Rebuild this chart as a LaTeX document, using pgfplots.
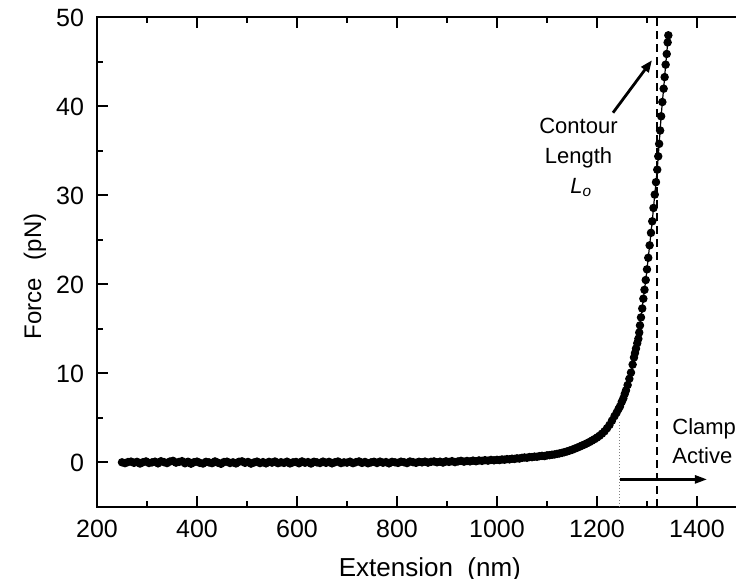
\documentclass[border=0pt]{standalone}
\usepackage{fontspec}
\setmainfont{Liberation Sans}
\usepackage{pgfplots}
\pgfplotsset{compat=1.18}
\usetikzlibrary{calc,arrows.meta}
\begin{document}
\begin{tikzpicture}
\begin{axis}[
  name=ax,
  scale only axis,
  width=320.1pt, height=244.75pt,
  xmin=200, xmax=1480.4, ymin=-5, ymax=50,
  axis lines=box,
  axis line style={-, line width=1pt},
  xtick={200,400,...,1400}, minor x tick num=1,
  ytick={0,10,...,50}, minor y tick num=1,
  xtick pos=both, ytick pos=left,
  tick align=inside,
  major tick length=5.5pt, minor tick length=3pt,
  every tick/.style={black, line width=1pt},
  /pgf/number format/assume math mode=true,
  /pgf/number format/1000 sep={},
  tick label style={font=\fontsize{12.5}{15}\selectfont},
  xticklabel style={yshift=-3pt},
  yticklabel style={xshift=-3pt},
  xlabel={Extension~~(nm)}, ylabel={Force\hspace{9pt}(pN)},
  xlabel style={font=\fontsize{13}{15}\selectfont, at={(axis description cs:0.52,-0.142)}, anchor=base},
  ylabel style={font=\fontsize{12}{14}\selectfont, at={(axis description cs:-0.097,0.471)}, anchor=center},
  clip=false,
]
\addplot[black, line width=0.6pt, mark=*, mark size=1.8pt, mark options={solid, fill=black}] table {
x y
250 0.02
256 -0.08
262 0.05
268 0.10
274 -0.04
280 0.07
286 -0.12
292 0.03
298 0.12
304 -0.06
310 0.01
316 0.09
322 -0.10
328 0.14
334 0.04
340 -0.07
346 0.11
352 0.18
358 -0.02
364 0.06
370 0.15
376 -0.09
382 0.08
388 -0.14
394 0.03
400 0.10
406 -0.05
412 -0.12
418 0.07
424 0.01
430 -0.08
436 0.12
442 -0.03
448 -0.15
454 0.05
460 0.09
466 -0.06
472 0.02
478 -0.11
484 0.08
490 0.13
496 -0.04
502 0.06
508 -0.13
514 0.00
520 0.10
526 -0.07
532 0.04
538 -0.10
544 0.07
550 -0.02
556 0.11
562 -0.08
568 0.03
574 -0.05
580 0.09
586 -0.11
592 0.02
598 0.06
604 -0.09
610 0.12
616 -0.03
622 0.05
628 -0.12
634 0.08
640 0.01
646 -0.06
652 0.10
658 -0.04
664 0.07
670 -0.10
676 0.03
682 0.11
688 -0.07
694 0.02
700 -0.02
706 0.09
712 -0.08
718 0.04
724 0.12
730 -0.05
736 0.06
742 -0.09
748 0.01
754 0.08
760 -0.06
766 0.10
772 -0.03
778 0.05
784 -0.10
790 0.07
796 0.02
802 -0.05
808 0.09
814 0.03
820 -0.07
826 0.11
832 0.04
838 -0.04
844 0.08
850 0.01
856 0.10
862 -0.02
868 0.07
874 0.12
880 0.02
886 0.09
892 -0.01
898 0.13
904 0.06
910 0.15
916 0.04
922 0.12
928 0.18
934 0.09
940 0.17
946 0.12
952 0.21
958 0.14
964 0.23
970 0.18
976 0.26
982 0.20
988 0.29
994 0.24
1000 0.30
1005 0.27
1010 0.34
1015 0.31
1020 0.38
1025 0.35
1030 0.42
1035 0.40
1040 0.47
1045 0.44
1050 0.52
1055 0.56
1060 0.53
1065 0.61
1070 0.60
1075 0.66
1080 0.64
1085 0.71
1090 0.74
1095 0.72
1100 0.80
1105 0.82
1110 0.87
1115 0.90
1120 0.96
1125 1.02
1130 1.08
1135 1.16
1140 1.24
1145 1.33
1150 1.42
1155 1.54
1160 1.65
1165 1.77
1170 1.90
1175 2.02
1180 2.16
1185 2.30
1190 2.46
1195 2.62
1200 2.80
1205 3.00
1210 3.24
1215 3.50
1220 3.84
1225 4.22
1230 4.70
1235 5.2
1239.3 5.6
1243 6.0
1246 6.3
1249.5 6.8
1252.7 7.2
1255.5 7.7
1258 8.1
1261.3 8.7
1264.7 9.4
1268 10.1
1271.3 11.0
1274 11.8
1276 12.3
1278 12.8
1280.5 13.4
1282.7 13.9
1284.5 14.6
1286 15.4
1288 16.3
1290.5 17.3
1292.7 18.4
1295 19.4
1297.5 20.5
1300 21.7
1302.5 23.0
1305.3 24.4
1308 25.8
1310.5 27.1
1313 28.6
1315.5 30.1
1318 31.5
1320.5 32.9
1322.5 34.4
1324.3 35.8
1326.3 37.3
1328.3 38.9
1330.7 40.5
1333.3 42.0
1335.3 43.3
1337.3 44.7
1339.5 45.9
1341.3 47.2
1342.7 48.0
};
\draw[line width=0.8pt, dash pattern=on 4pt off 2.5pt] (axis cs:1320,-5) -- (axis cs:1320,50);
\draw[line width=0.5pt, gray, densely dotted] (axis cs:1246,4.5) -- (axis cs:1246,-5);
\draw[-{Triangle[length=6pt,width=4pt]}, line width=1.2pt] (axis cs:1246,-1.9) -- (axis cs:1420,-1.9);
\draw[-{Triangle[length=6pt,width=4.5pt]}, line width=1.4pt] (axis cs:1232,39.3) -- (axis cs:1310,45.2);
\node[anchor=base, font=\fontsize{11}{13}\selectfont] at (axis cs:1163,36.97) {Contour};
\node[anchor=base, font=\fontsize{11}{13}\selectfont] at (axis cs:1163,33.6) {Length};
\node[anchor=base west, inner sep=0pt, font=\fontsize{11}{13}\selectfont] at (axis cs:1146,30.2) {\textit{L}\textsubscript{\textit{o}}};
\node[anchor=base west, inner sep=0pt, font=\fontsize{11}{13}\selectfont] at (axis cs:1350,3.10) {Clamp};
\node[anchor=base west, inner sep=0pt, font=\fontsize{11}{13}\selectfont] at (axis cs:1350,-0.15) {Active};
\end{axis}
\pgfresetboundingbox
\path[use as bounding box] ($(ax.south west)+(-48.5pt,-36pt)$) rectangle ($(ax.north east)+(-0.6pt,8.75pt)$);
\end{tikzpicture}
\end{document}
